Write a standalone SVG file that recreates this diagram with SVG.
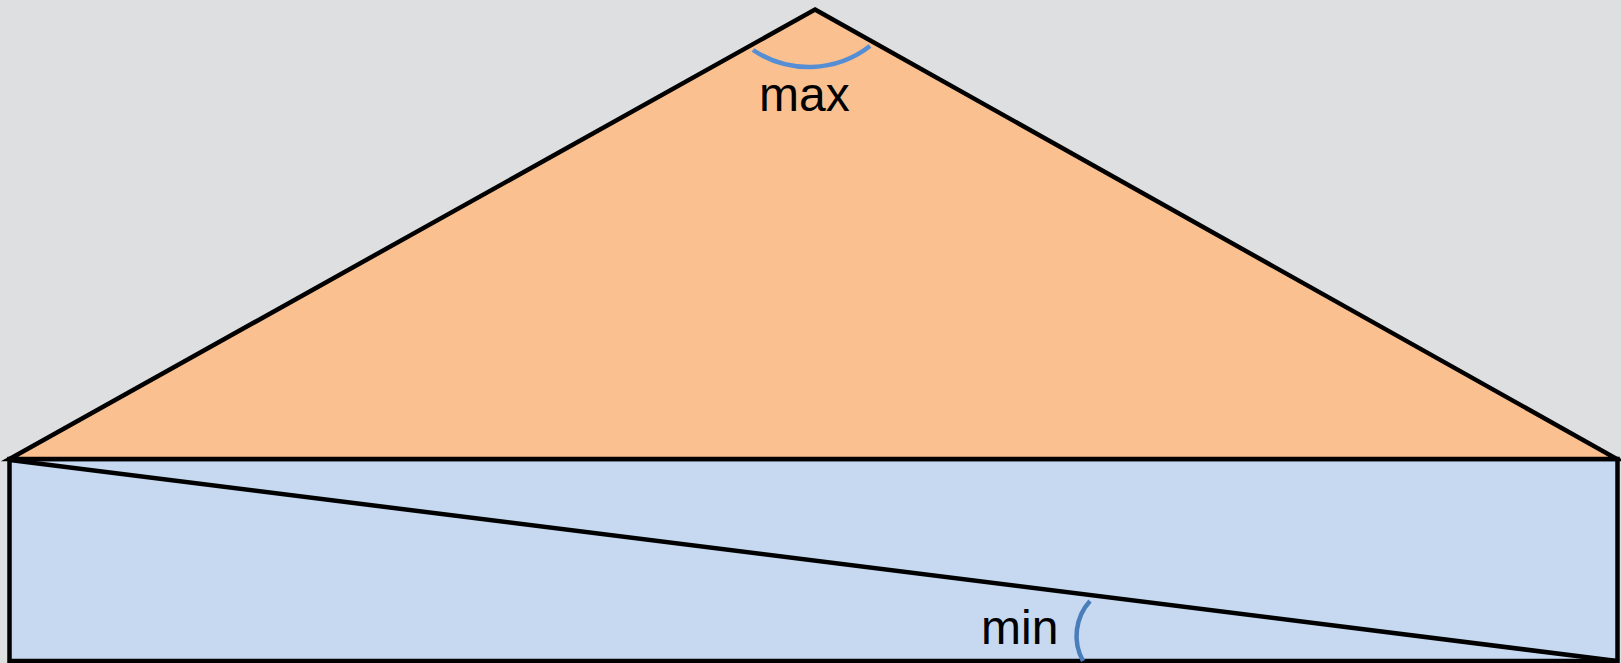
<svg xmlns="http://www.w3.org/2000/svg" width="1621" height="663" viewBox="0 0 1621 663">
  <style>
    .edge { stroke: #000000; stroke-width: 4.5; stroke-linejoin: miter; }
    .angle { fill: none; stroke-width: 4.5; stroke-linecap: butt; }
    .lbl { font-family: "Liberation Sans", Arial, sans-serif; font-size: 48px; fill: #000000; }
  </style>
  <rect x="0" y="0" width="1621" height="663" fill="#DEDFE1"/>
  <g id="rectangle">
    <rect class="edge" x="9.5" y="459" width="1608" height="202" fill="#C6D9F1"/>
  </g>
  <g id="triangle">
    <polygon class="edge" points="815,9.5 1617,459 9.5,459" fill="#FBC08F"/>
  </g>
  <g id="connectors">
    <line class="edge" x1="10" y1="460" x2="1617" y2="661"/>
  </g>
  <g id="max-angle">
    <path class="angle" stroke="#558ED5" d="M753,50 A100,100 0 0 0 870,46"/>
    <text class="lbl" x="759" y="111">max</text>
  </g>
  <g id="min-angle">
    <path class="angle" stroke="#4A7EBB" d="M1090,601 A52,52 0 0 0 1083,661"/>
    <text class="lbl" x="981" y="644">min</text>
  </g>
</svg>
